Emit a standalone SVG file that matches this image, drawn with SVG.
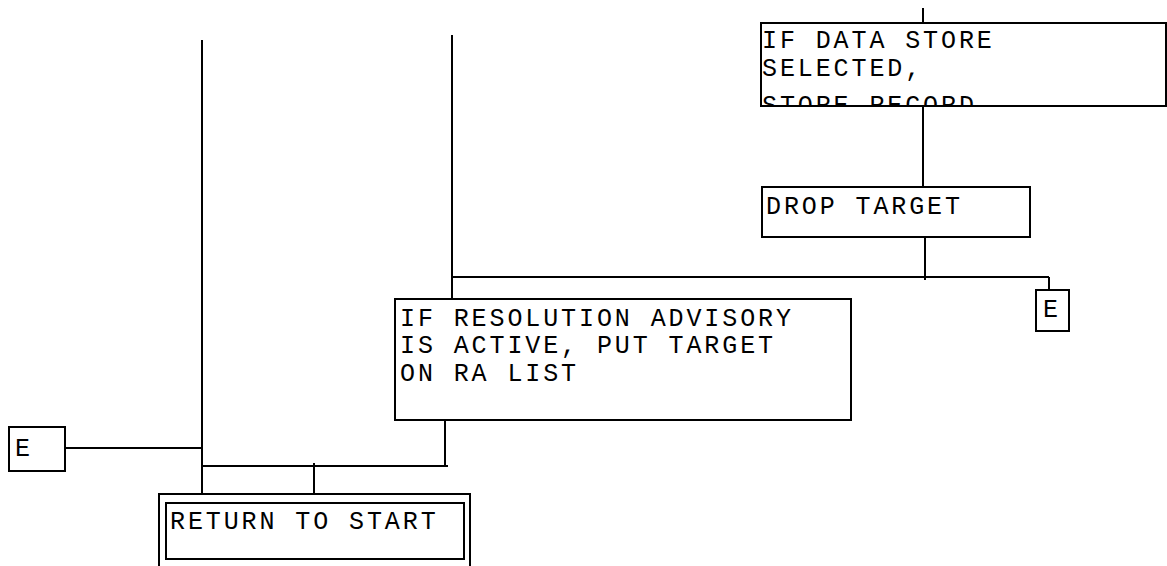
<svg xmlns="http://www.w3.org/2000/svg" width="1167" height="566" viewBox="0 0 1167 566">
  <defs>
    <style>
      .box { fill: #ffffff; stroke: #000000; stroke-width: 2; }
      .wire { fill: none; stroke: #000000; stroke-width: 2; }
      .label { font-family: "Liberation Mono", "Courier New", monospace; font-size: 25px; letter-spacing: 2.9px; fill: #000000; }
    </style>
    <clipPath id="clip-store">
      <rect x="761" y="23" width="406" height="83"/>
    </clipPath>
  </defs>
  <rect width="1167" height="566" fill="#ffffff"/>

  <!-- connectors -->
  <g id="connectors">
    <line class="wire" x1="923" y1="8" x2="923" y2="23"/>
    <line class="wire" x1="923" y1="106" x2="923" y2="187"/>
    <line class="wire" x1="925" y1="237" x2="925" y2="280"/>
    <line class="wire" x1="451" y1="277" x2="1049" y2="277"/>
    <line class="wire" x1="1049" y1="277" x2="1049" y2="290"/>
    <line class="wire" x1="452" y1="35" x2="452" y2="299"/>
    <line class="wire" x1="445" y1="420" x2="445" y2="466"/>
    <line class="wire" x1="202" y1="466" x2="448" y2="466"/>
    <line class="wire" x1="202" y1="40" x2="202" y2="494"/>
    <line class="wire" x1="65" y1="448" x2="202" y2="448"/>
    <line class="wire" x1="314" y1="463" x2="314" y2="494"/>
  </g>

  <!-- IF DATA STORE SELECTED, STORE RECORD -->
  <g id="node-store">
    <rect class="box" x="761" y="23" width="405" height="83"/>
    <g clip-path="url(#clip-store)">
      <text class="label" x="762" y="48">IF DATA STORE</text>
      <text class="label" x="762" y="76">SELECTED,</text>
      <text class="label" x="762" y="113">STORE RECORD</text>
    </g>
  </g>

  <!-- DROP TARGET -->
  <g id="node-drop">
    <rect class="box" x="762" y="187" width="268" height="50"/>
    <text class="label" x="766" y="214">DROP TARGET</text>
  </g>

  <!-- connector E (right) -->
  <g id="node-e-right">
    <rect class="box" x="1036" y="290" width="33" height="41"/>
    <text class="label" x="1043" y="317">E</text>
  </g>

  <!-- IF RESOLUTION ADVISORY ... -->
  <g id="node-ra">
    <rect class="box" x="395" y="299" width="456" height="121"/>
    <text class="label" x="400" y="326">IF RESOLUTION ADVISORY</text>
    <text class="label" x="400" y="353">IS ACTIVE, PUT TARGET</text>
    <text class="label" x="400" y="381">ON RA LIST</text>
  </g>

  <!-- connector E (left) -->
  <g id="node-e-left">
    <rect class="box" x="9" y="427" width="56" height="44"/>
    <text class="label" x="15" y="456">E</text>
  </g>

  <!-- RETURN TO START -->
  <g id="node-return">
    <rect class="box" x="159" y="494" width="311" height="90"/>
    <rect class="box" x="166" y="503" width="298" height="56"/>
    <text class="label" x="170" y="529">RETURN TO START</text>
  </g>
</svg>
